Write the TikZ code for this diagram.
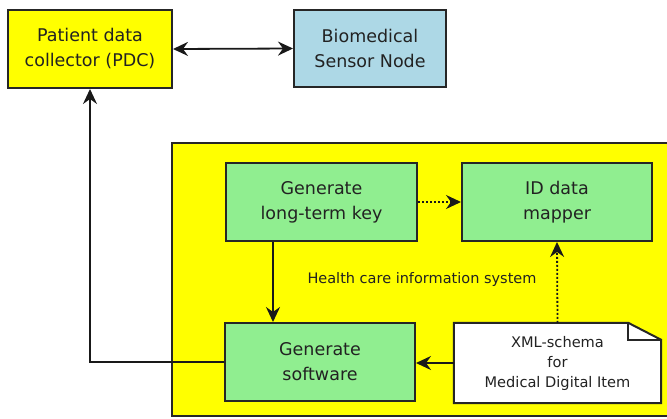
\documentclass[tikz,border=0pt]{standalone}
\usepackage{fontspec}
\setmainfont{DejaVu Sans}
\usetikzlibrary{arrows.meta}
\definecolor{boxyellow}{HTML}{FFFF00}
\definecolor{boxblue}{HTML}{ADD8E6}
\definecolor{boxgreen}{HTML}{90EE90}
\definecolor{txt}{HTML}{222222}
\tikzset{
  blk/.style={draw=black!85, line width=2pt, align=center, inner sep=0pt,
    font=\fontsize{17.5}{25}\selectfont, text=txt},
  conn/.style={line width=1.8pt, draw=black!90, -{Stealth[length=15pt,width=14pt,inset=5pt]}},
  dconn/.style={conn, dash pattern=on 2pt off 2pt},
}
\begin{document}
\begin{tikzpicture}[x=1pt,y=-1pt]
\useasboundingbox (0,0) rectangle (667,418);
% big container
\node[draw=black!85, line width=2pt, fill=boxyellow, minimum width=504pt, minimum height=273pt, inner sep=0pt, anchor=north west] (his) at (171,142) {};
\node[font=\fontsize{14.5}{16}\selectfont, text=txt] (lbl) at (422,279) {Health care information system};

\node[blk, fill=boxyellow, minimum width=164pt, minimum height=78pt] (pdc) at (90,49) {Patient data\\collector (PDC)};
\node[blk, fill=boxblue, minimum width=152pt, minimum height=77pt] (bio) at (370,48.5) {Biomedical\\Sensor Node};
\node[blk, fill=boxgreen, minimum width=191pt, minimum height=78pt] (key) at (321.5,202) {Generate\\long-term key};
\node[blk, fill=boxgreen, minimum width=190pt, minimum height=78pt] (idm) at (557,202) {ID data\\mapper};
\node[blk, fill=boxgreen, minimum width=190pt, minimum height=78pt] (soft) at (320,362) {Generate\\software};

% XML note with folded corner
\node[minimum width=207pt, minimum height=80pt, inner sep=0pt] (xml) at (557.5,363) {};
\draw[line width=2pt, draw=black!85, fill=white, line join=miter]
  (xml.north west) -- ([xshift=-33pt]xml.north east) -- ([yshift=-17pt]xml.north east)
  -- (xml.south east) -- (xml.south west) -- cycle;
\draw[line width=2pt, draw=black!85, line join=miter]
  ([xshift=-33pt]xml.north east) -- ([xshift=-33pt,yshift=-17pt]xml.north east) -- ([yshift=-17pt]xml.north east);
\node[inner sep=0pt, align=center, font=\fontsize{14.6}{20}\selectfont, text=txt] (xmltxt) at (xml.center) {XML-schema\\for\\Medical Digital Item};

% connectors
\coordinate (kx) at (273,0);
\draw[conn, {Stealth[length=15pt,width=14pt,inset=5pt]}-{Stealth[length=15pt,width=14pt,inset=5pt]}] (pdc.east) -- (bio.west);
\draw[dconn] (key.east) -- (idm.west);
\draw[conn] (key.south -| kx) -- (soft.north -| kx);
\draw[dconn] (xml.north) -- (idm.south);
\draw[conn] (xml.west) -- (soft.east |- xml.west);
\draw[conn] (soft.west) -| (pdc.south);
\end{tikzpicture}
\end{document}
